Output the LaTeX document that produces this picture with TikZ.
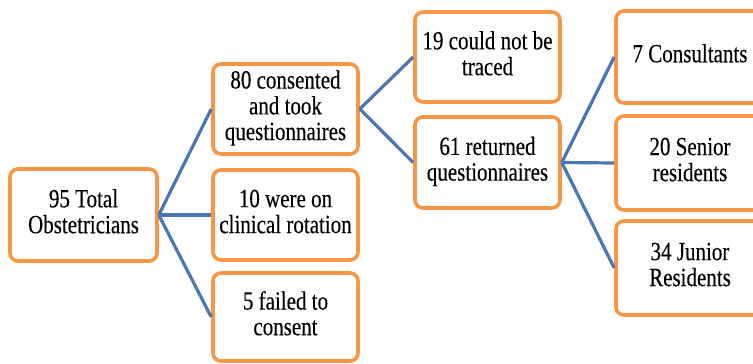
\documentclass[tikz,border=0pt]{standalone}
\usepackage{fontspec}
\usepackage{graphicx}
\setmainfont[FakeBold=0.3]{Liberation Serif}
\definecolor{boxorange}{HTML}{F79646}
\definecolor{lineblue}{HTML}{4A76B4}
\newcommand{\stx}[1]{\scalebox{1}[1.25]{\begin{tabular}{@{}c@{}}#1\end{tabular}}}
\tikzset{
  fbox/.style={draw=boxorange, line width=3.6pt, rounded corners=8pt, fill=white,
    minimum width=145pt, minimum height=91pt, inner sep=0pt, align=center,
    font=\fontsize{21}{20.5}\selectfont},
  conn/.style={draw=lineblue, line width=3.2pt}
}
\begin{document}
\begin{tikzpicture}[x=1pt,y=-1pt]
\useasboundingbox (0,0) rectangle (753,364);
\clip (0,0) rectangle (753,364);
\node[fbox, minimum width=147pt, minimum height=92pt] (A) at (83.5,215) {\stx{95 Total\\Obstetricians}};
\node[fbox, minimum height=90pt] (B) at (285.5,109) {\stx{80 consented\\and took\\questionnaires}};
\node[fbox, minimum height=90pt] (C) at (285.5,215) {\stx{10 were on\\clinical rotation}};
\node[fbox, minimum height=88pt] (D) at (285.5,317) {\stx{5 failed to\\consent}};
\node[fbox, minimum height=90pt] (E) at (487.5,57) {\stx{19 could not be\\traced}};
\node[fbox, minimum height=91pt] (F) at (487.5,162.5) {\stx{61 returned\\questionnaires}};
\node[fbox, minimum width=148pt, minimum height=92pt] (G) at (690,57) {\stx{7 Consultants}};
\node[fbox, minimum width=148pt, minimum height=94pt] (H) at (690,163) {\stx{20 Senior\\residents}};
\node[fbox, minimum width=148pt, minimum height=94pt] (I) at (690,268) {\stx{34 Junior\\Residents}};
\draw[conn] (A.east) -- (B.west);
\draw[conn] (A.east) -- (C.west);
\draw[conn] (A.east) -- (D.west);
\draw[conn] (B.east) -- (E.west);
\draw[conn] (B.east) -- (F.west);
\draw[conn] (F.east) -- (G.west);
\draw[conn] (F.east) -- (H.west);
\draw[conn] (F.east) -- (I.west);
\end{tikzpicture}
\end{document}
